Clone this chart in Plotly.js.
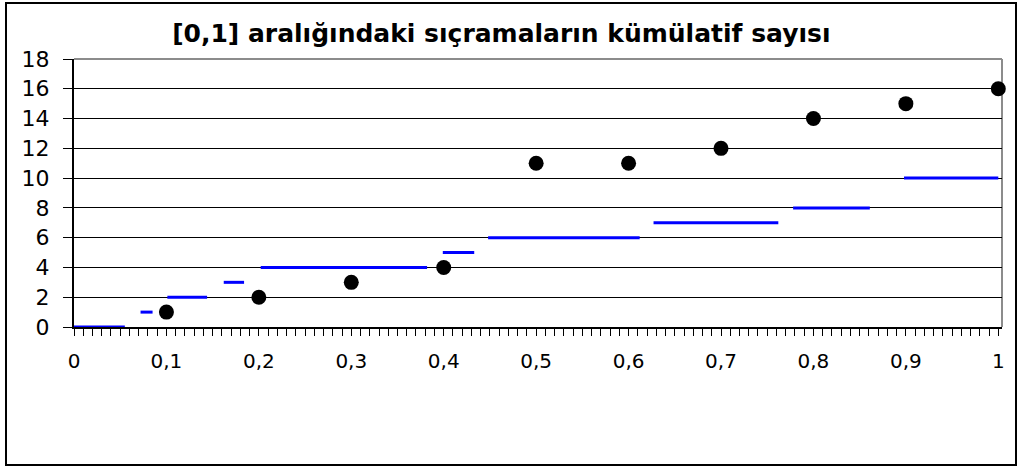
<!DOCTYPE html>
<html>
<head>
<meta charset="utf-8">
<script src="https://cdn.plot.ly/plotly-3.0.1.min.js"></script>
<style>
  html, body { margin: 0; padding: 0; background: #fff; }
  #wrap { position: relative; width: 1021px; height: 467px; }
  #chart { width: 1021px; height: 467px; }
  #frame { position: absolute; left: 5px; top: 2px; width: 1008px; height: 460px;
           border: 2px solid #000; pointer-events: none; }
</style>
</head>
<body>
<div id="wrap"><div id="chart"></div><div id="frame"></div></div>
<script>
// Black points: cumulative count at each 0.1 mark
const pointX = [0.1, 0.2, 0.3, 0.4, 0.5, 0.6, 0.7, 0.8, 0.9, 1.0];
const pointY = [1, 2, 3, 4, 11, 11, 12, 14, 15, 16];

// Blue step segments: start, end, level
const segStart = [0.000, 0.072, 0.101, 0.162, 0.202, 0.399, 0.448, 0.627, 0.778, 0.898];
const segEnd   = [0.055, 0.085, 0.144, 0.184, 0.382, 0.433, 0.612, 0.762, 0.861, 1.000];
const segLevel = [0, 1, 2, 3, 4, 5, 6, 7, 8, 10];

const yTicks = [0, 2, 4, 6, 8, 10, 12, 14, 16, 18];
const xTicks = [0, 0.1, 0.2, 0.3, 0.4, 0.5, 0.6, 0.7, 0.8, 0.9, 1];

const titleText = "[0,1] aralığındaki sıçramaların kümülatif sayısı";

const lx = [], ly = [];
for (let i = 0; i < segStart.length; i++) {
  lx.push(segStart[i], segEnd[i], null);
  ly.push(segLevel[i], segLevel[i], null);
}

const traces = [
  { x: lx, y: ly, type: 'scatter', mode: 'lines', connectgaps: false,
    line: { color: '#0000FF', width: 3 }, hoverinfo: 'skip', cliponaxis: false },
  { x: pointX, y: pointY, type: 'scatter', mode: 'markers',
    marker: { color: '#000000', size: 15, line: { width: 0 } }, cliponaxis: false }
];

const layout = {
  width: 1021, height: 467,
  margin: { l: 74, r: 19, t: 59, b: 140, pad: 0 },
  paper_bgcolor: '#ffffff', plot_bgcolor: '#ffffff',
  showlegend: false,
  separators: ', ',
  font: { family: 'DejaVu Sans, Arial, sans-serif', color: '#000' },
  title: {
    text: '<b>' + titleText + '</b>',
    font: { family: 'DejaVu Sans, Arial, sans-serif', size: 25, color: '#000' },
    xref: 'container', yref: 'container',
    x: 0.491, xanchor: 'center', y: 1 - 33 / 467, yanchor: 'middle'
  },
  xaxis: {
    range: [0, 1.004], tickvals: xTicks, ticktext: xTicks.map(v => String(v).replace('.', ',')),
    ticks: 'outside', ticklen: 7, tickwidth: 1, tickcolor: '#000',
    minor: { dtick: 0.01, tick0: 0, ticks: 'outside', ticklen: 7, tickwidth: 1, tickcolor: '#000', showgrid: false },
    showgrid: false, zeroline: false,
    showline: true, linecolor: '#000', linewidth: 2,
    tickfont: { family: 'DejaVu Sans, Arial, sans-serif', size: 20, color: '#000' },
    ticklabelstandoff: 8, fixedrange: true
  },
  yaxis: {
    range: [0, 18], tickvals: yTicks,
    ticks: 'outside', ticklen: 9, tickwidth: 1, tickcolor: '#000',
    showgrid: true, gridcolor: '#000', gridwidth: 1,
    zeroline: false,
    showline: true, linecolor: '#000', linewidth: 2,
    tickfont: { family: 'DejaVu Sans, Arial, sans-serif', size: 22, color: '#000' },
    ticklabelstandoff: 9, fixedrange: true
  },
  shapes: [
    { type: 'line', xref: 'paper', yref: 'paper', x0: 0, x1: 1, y0: 1, y1: 1,
      line: { color: '#8c8c8c', width: 2 }, layer: 'between' },
    { type: 'line', xref: 'paper', yref: 'paper', x0: 1, x1: 1, y0: 0, y1: 1,
      line: { color: '#8c8c8c', width: 2 }, layer: 'between' }
  ]
};

Plotly.newPlot('chart', traces, layout, { displayModeBar: false, staticPlot: true });
</script>
</body>
</html>
